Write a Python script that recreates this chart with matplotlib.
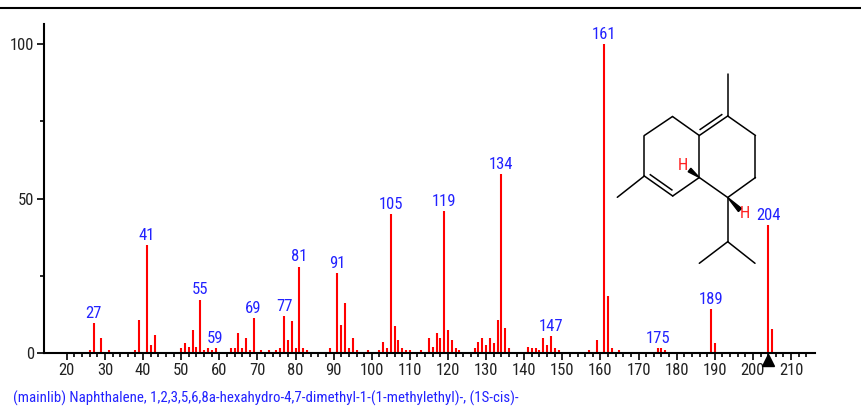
import matplotlib
matplotlib.use("Agg")
import matplotlib.pyplot as plt
from matplotlib.patches import Polygon

plt.rcParams['font.family'] = ['Roboto Condensed', 'Liberation Sans', 'DejaVu Sans']

# mass spectrum (m/z, relative intensity)
mz = [26, 27, 29, 31, 38, 39, 41, 42, 43, 50, 51, 52, 53, 54, 55, 56, 57, 58, 59,
      63, 64, 65, 66, 67, 68, 69, 71, 73, 75, 76, 77, 78, 79, 80, 81, 82, 83,
      89, 91, 92, 93, 94, 95, 96, 99, 102, 103, 104, 105, 106, 107, 108, 109, 110,
      113, 115, 116, 117, 118, 119, 120, 121, 122, 123,
      127, 128, 129, 130, 131, 132, 133, 134, 135, 136,
      141, 142, 143, 144, 145, 146, 147, 148, 149,
      157, 159, 161, 162, 163, 165, 175, 176, 177, 189, 190, 204, 205]
intensity = [1.0, 9.7, 4.7, 1.0, 1.0, 10.8, 35.0, 2.6, 5.9, 1.5, 3.1, 2.0, 7.6, 2.0, 17.3, 1.0, 1.5, 1.0, 1.5,
             1.5, 1.5, 6.5, 1.5, 4.7, 1.0, 11.3, 1.0, 1.0, 1.0, 1.5, 11.9, 4.3, 10.2, 1.5, 28.0, 1.5, 1.0,
             1.5, 26.0, 9.2, 16.2, 1.5, 4.7, 1.0, 1.0, 1.0, 3.7, 1.5, 45.0, 8.6, 4.3, 1.5, 1.0, 1.0,
             1.0, 4.9, 2.0, 6.5, 4.7, 46.0, 7.6, 4.3, 1.5, 1.0,
             1.5, 3.7, 4.7, 2.7, 4.7, 3.1, 10.8, 58.0, 8.1, 1.5,
             2.0, 1.5, 1.5, 1.0, 4.7, 2.6, 5.4, 1.5, 1.0,
             1.0, 4.3, 100.0, 18.6, 1.5, 1.0, 1.5, 1.5, 1.0, 14.1, 3.3, 41.5, 7.7]
labeled = [27, 41, 55, 59, 69, 77, 81, 91, 105, 119, 134, 147, 161, 175, 189, 204]
mol_ion = 204
title = "(mainlib) Naphthalene, 1,2,3,5,6,8a-hexahydro-4,7-dimethyl-1-(1-methylethyl)-, (1S-cis)-"

W, H = 862, 409
fig = plt.figure(figsize=(W / 100, H / 100), dpi=100)
ax = fig.add_axes([44 / W, 1 - 353 / H, (815 - 44) / W, (353 - 24) / H])

ax.vlines(mz, 0, intensity, colors='#ff0000', linewidth=1.5)
for m, v in zip(mz, intensity):
    if m in labeled:
        ax.annotate(str(m), (m, v), xytext=(0, 1.5), textcoords='offset points',
                    ha='center', va='bottom', color='#2222ff', fontsize=12)

ax.plot([mol_ion], [-2.3], marker='^', color='black', markersize=9, clip_on=False)

ax.set_xlim(14, 216.3)
ax.set_ylim(0, 106.5)
for s in ['top', 'right']:
    ax.spines[s].set_visible(False)
for s in ['left', 'bottom']:
    ax.spines[s].set_linewidth(1.5)
ax.set_xticks(range(20, 211, 10))
ax.set_xticks(range(20, 216, 2), minor=True)
ax.set_yticks([0, 50, 100])
ax.set_yticks([25, 75], minor=True)
ax.tick_params(axis='both', which='major', length=5, width=1.2, labelsize=12,
               labelcolor='#222222', pad=2)
ax.tick_params(axis='both', which='minor', length=3, width=1.2)
ax.patch.set_alpha(0)

# figure decorations: top rule and caption
ov = fig.add_axes([0, 0, 1, 1], zorder=5)
ov.set_xlim(0, W)
ov.set_ylim(H, 0)
ov.axis('off')
ov.patch.set_alpha(0)
ov.plot([0, W], [8, 8], color='black', linewidth=1.5)
ov.text(13, 398, title, color='#2222ff', fontsize=10.7, ha='left', va='center')

# structure drawing
atoms = {
    'Me4': (727.7, 74), 'C4': (727.7, 116), 'R1': (755.5, 135.5), 'R2': (755.5, 177.5),
    'C1': (727.7, 197.5), 'C8a': (699.3, 177.5), 'C4a': (699.3, 135.5),
    'L1': (672.5, 116.5), 'L2': (644.3, 135.5), 'C7': (644.3, 176), 'Me7': (617.3, 197.3),
    'C8': (672.7, 196), 'iPr': (727.7, 241.7), 'iPrL': (699.3, 263.3), 'iPrR': (755, 263.3),
}
bonds = [('Me4', 'C4'), ('C4', 'R1'), ('R1', 'R2'), ('R2', 'C1'), ('C1', 'C8a'),
         ('C8a', 'C4a'), ('C4a', 'C4'), ('C4a', 'L1'), ('L1', 'L2'), ('L2', 'C7'),
         ('C7', 'C8'), ('C8', 'C8a'), ('C7', 'Me7'), ('C1', 'iPr'),
         ('iPr', 'iPrL'), ('iPr', 'iPrR')]
for a, b in bonds:
    (x1, y1), (x2, y2) = atoms[a], atoms[b]
    ov.plot([x1, x2], [y1, y2], color='black', linewidth=1.1, solid_capstyle='round')

# second lines of double bonds
for a, b, side in [('C4', 'C4a', 1), ('C7', 'C8', -1)]:
    (x1, y1), (x2, y2) = atoms[a], atoms[b]
    dx, dy = x2 - x1, y2 - y1
    n = (dx ** 2 + dy ** 2) ** 0.5
    nx, ny = -dy / n * 4.5 * side, dx / n * 4.5 * side
    ov.plot([x1 + nx + dx * 0.12, x2 + nx - dx * 0.12],
            [y1 + ny + dy * 0.12, y2 + ny - dy * 0.12], color='black', linewidth=1.1)

# wedges to H
for a, tip in [('C8a', (689.5, 170)), ('C1', (740, 210))]:
    x0, y0 = atoms[a]
    dx, dy = tip[0] - x0, tip[1] - y0
    n = (dx ** 2 + dy ** 2) ** 0.5
    px, py = -dy / n * 2.2, dx / n * 2.2
    ov.add_patch(Polygon([(x0, y0), (tip[0] + px, tip[1] + py), (tip[0] - px, tip[1] - py)],
                         closed=True, color='black'))
ov.text(683, 165, 'H', color='#ff2020', fontsize=12, ha='center', va='center')
ov.text(745, 213, 'H', color='#ff2020', fontsize=12, ha='center', va='center')

fig.savefig('out.png', dpi=100)
